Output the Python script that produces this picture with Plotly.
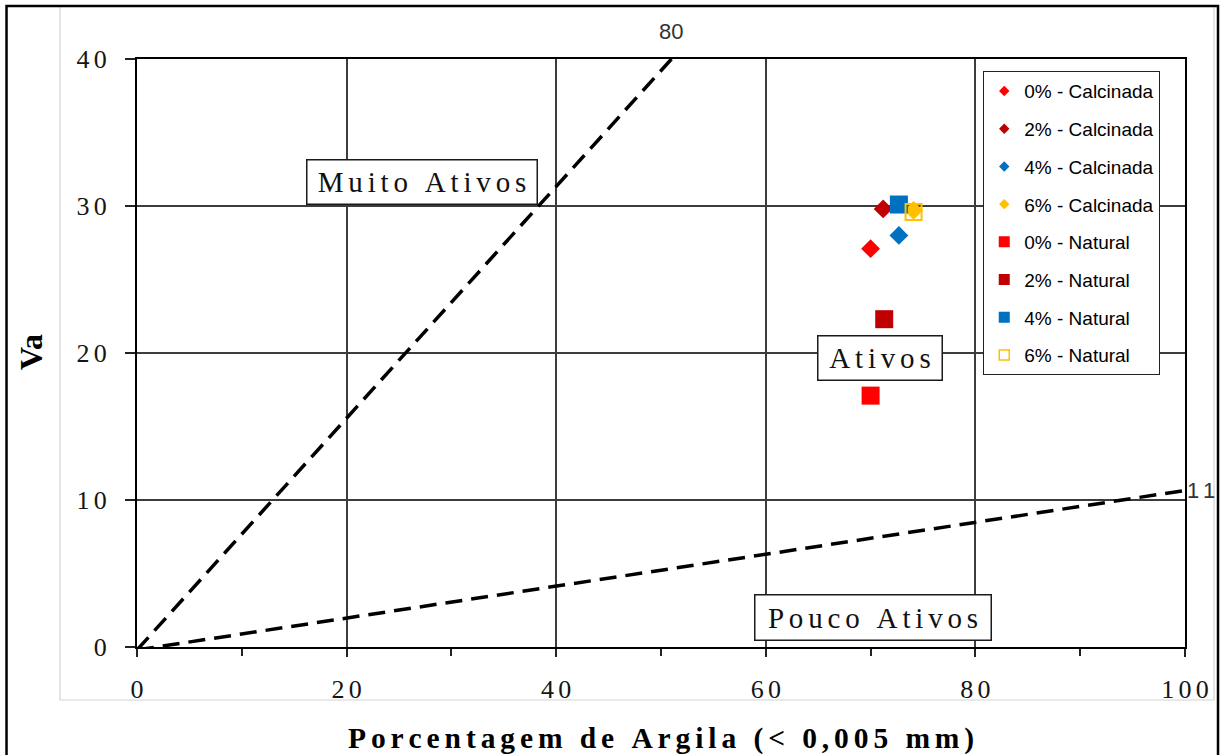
import plotly.graph_objects as go

# --- data -------------------------------------------------------------
series_pct = ["0%", "2%", "4%", "6%"]
series_colors = ["#FF0000", "#C00000", "#0070C0", "#FFC000"]

# calcined samples (diamonds)
calc_x = [70.0, 71.2, 72.7, 74.1]
calc_y = [27.1, 29.8, 28.0, 29.7]

# natural samples (squares)
nat_x = [70.0, 71.3, 72.7, 74.1]
nat_y = [17.1, 22.3, 30.1, 29.6]
nat_symbols = ["square", "square", "square", "square-open"]

# activity boundary lines
line_80_x = [0, 51.0]
line_80_y = [-0.2, 40]
line_11_x = [0, 100]
line_11_y = [-0.2, 10.65]

x_ticks = [0, 20, 40, 60, 80, 100]
y_ticks = [0, 10, 20, 30, 40]

zone_labels = ["Muito Ativos", "Ativos", "Pouco Ativos"]
zone_x = [27.2, 70.9, 70.2]
zone_y = [31.6, 19.66, 2.0]
zone_w = [229, 123, 235]
zone_h = [43, 43, 44]

x_title = "Porcentagem de Argila (< 0,005 mm)"
y_title = "Va"

GAP = "\u2006"  # six-per-em space used for letter spacing
SERIF = "Liberation Serif, Times New Roman, serif"
SANS = "Liberation Sans, Arial, sans-serif"
NARROW = "Liberation Sans Narrow, Arial Narrow, Liberation Sans, sans-serif"


def spaced(s):
    return GAP.join(s)


fig = go.Figure()

# dashed boundary lines
dash_style = dict(color="black", width=3.5, dash="17px,9px")
fig.add_trace(go.Scatter(x=line_80_x, y=line_80_y, mode="lines",
                         line=dash_style, showlegend=False, hoverinfo="skip"))
fig.add_trace(go.Scatter(x=line_11_x, y=line_11_y, mode="lines",
                         line=dash_style, showlegend=False, hoverinfo="skip"))

# data points
for i, pct in enumerate(series_pct):
    fig.add_trace(go.Scatter(
        x=[calc_x[i]], y=[calc_y[i]], mode="markers",
        marker=dict(symbol="diamond", size=14.5, color=series_colors[i],
                    line=dict(width=0)),
        name=f"{pct} - Calcinada", showlegend=False))
for i, pct in enumerate(series_pct):
    sym = nat_symbols[i]
    if sym == "square-open":
        mk = dict(symbol=sym, size=16, color=series_colors[i],
                  line=dict(width=2, color=series_colors[i]))
    else:
        mk = dict(symbol=sym, size=18, color=series_colors[i],
                  line=dict(width=0))
    fig.add_trace(go.Scatter(x=[nat_x[i]], y=[nat_y[i]], mode="markers",
                             marker=mk, name=f"{pct} - Natural",
                             showlegend=False))

# legend entries (smaller symbols than the plotted points)
for i, pct in enumerate(series_pct):
    fig.add_trace(go.Scatter(
        x=[None], y=[None], mode="markers",
        marker=dict(symbol="diamond", size=8, color=series_colors[i],
                    line=dict(width=0)),
        name=f"{pct} - Calcinada", legendgroup=f"c{i}", showlegend=True))
for i, pct in enumerate(series_pct):
    sym = nat_symbols[i]
    if sym == "square-open":
        mk = dict(symbol=sym, size=10, color=series_colors[i],
                  line=dict(width=1.5, color=series_colors[i]))
    else:
        mk = dict(symbol=sym, size=11, color=series_colors[i],
                  line=dict(width=0))
    fig.add_trace(go.Scatter(x=[None], y=[None], mode="markers", marker=mk,
                             name=f"{pct} - Natural", legendgroup=f"n{i}",
                             showlegend=True))

annotations = []
for txt, zx, zy, w, h in zip(zone_labels, zone_x, zone_y, zone_w, zone_h):
    annotations.append(dict(
        x=zx, y=zy, xref="x", yref="y", text=spaced(txt), showarrow=False,
        xanchor="center", yanchor="middle",
        font=dict(family=SERIF, size=29, color="#111111"),
        bgcolor="white", bordercolor="#1a1a1a", borderwidth=1.5, borderpad=0,
        width=w, height=h, align="center", valign="middle"))

# line labels
annotations.append(dict(x=line_80_x[1], y=1.046, xref="x", yref="paper",
                        text="80", showarrow=False,
                        xanchor="center", yanchor="middle",
                        font=dict(family=NARROW, size=22, color="#333333")))
annotations.append(dict(x=1.0155, y=line_11_y[1], xref="paper", yref="y",
                        text=spaced("11"), showarrow=False,
                        xanchor="center", yanchor="middle",
                        font=dict(family=NARROW, size=22, color="#333333")))

# axis titles
annotations.append(dict(x=0.5, y=-0.1548, xref="paper", yref="paper",
                        text=f"<b>{spaced(x_title)}</b>", showarrow=False,
                        font=dict(family=SERIF, size=29.5, color="black"),
                        xanchor="center", yanchor="middle"))
annotations.append(dict(x=-0.1011, y=0.5017, xref="paper", yref="paper",
                        text=f"<b>{y_title}</b>", showarrow=False,
                        textangle=-90,
                        font=dict(family=SERIF, size=32, color="black"),
                        xanchor="center", yanchor="middle"))

shapes = [
    # light chart-area border
    dict(type="rect", xref="paper", yref="paper", x0=-0.0735, x1=1.0277,
         y0=-0.0901, y1=1.09, line=dict(color="#d4d4d4", width=1.2),
         fillcolor="rgba(0,0,0,0)"),
    # outer frame
    dict(type="rect", xref="paper", yref="paper", x0=-0.1245, x1=1.0315,
         y0=-0.2, y1=1.0901, line=dict(color="black", width=2.5),
         fillcolor="rgba(0,0,0,0)"),
]

grid_color = "#3c3c3c"
tick_font = dict(family=SERIF, size=26, color="#151515")
fig.update_layout(
    width=1220, height=755, autosize=False,
    margin=dict(l=137, r=35, t=59, b=108, pad=0),
    paper_bgcolor="white", plot_bgcolor="white",
    showlegend=True,
    legend=dict(x=0.8073, y=0.9796, xanchor="left", yanchor="top",
                bgcolor="white", bordercolor="#222222", borderwidth=1.2,
                font=dict(family=SANS, size=19, color="#000000"),
                traceorder="grouped", tracegroupgap=10, itemwidth=30),
    annotations=annotations,
    shapes=shapes,
    xaxis=dict(range=[0, 100], tickvals=x_ticks,
               ticktext=[spaced(str(v)) for v in x_ticks],
               showgrid=True, gridcolor=grid_color, gridwidth=1.5,
               showline=True, linecolor="black", linewidth=2, mirror=True,
               zeroline=False, ticks="outside", ticklen=8, tickwidth=1.5,
               tickcolor="#222222", ticklabelstandoff=10,
               minor=dict(dtick=10, tick0=0, ticks="outside", ticklen=7,
                          tickwidth=1.5, tickcolor="#222222", showgrid=False),
               tickfont=tick_font),
    yaxis=dict(range=[0, 40], tickvals=y_ticks,
               ticktext=[spaced(str(v)) for v in y_ticks],
               showgrid=True, gridcolor=grid_color, gridwidth=1.5,
               showline=True, linecolor="black", linewidth=2, mirror=True,
               zeroline=False, ticks="outside", ticklen=10, tickwidth=1.5,
               tickcolor="#222222", ticklabelstandoff=13,
               tickfont=tick_font),
)

fig.write_html("out.html")
